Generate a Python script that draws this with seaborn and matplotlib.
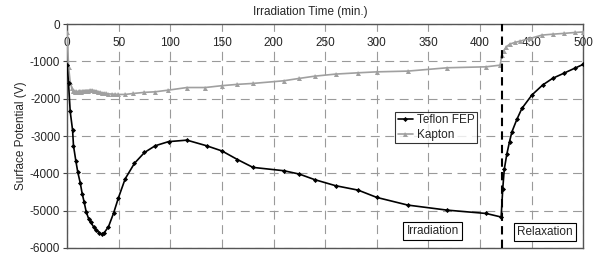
import numpy as np
import pandas as pd
import matplotlib
matplotlib.use('Agg')
import matplotlib.pyplot as plt
import seaborn as sns

# Teflon FEP (black)
teflon_t = [0, 1.3, 2.9, 5.2, 6.1, 8.4, 10.3, 12.6, 14.5, 16.5, 18.4, 20.7, 22.9, 25.5, 28.1,
            31, 33.3, 35.9, 40, 44.9, 49.7, 56.2, 65.2, 74.9, 85.3, 98.2, 116, 135, 150, 165,
            180, 210, 225, 240, 260, 282, 300, 330, 368, 406, 420.5, 422, 423.5, 426, 428.6,
            430.9, 435.7, 440.6, 450.3, 460.6, 470.3, 481, 492, 500]
teflon_v = [-1100, -1590, -2340, -2840, -3260, -3670, -3975, -4250, -4540, -4780, -5030, -5210,
            -5315, -5430, -5520, -5590, -5630, -5590, -5430, -5070, -4650, -4145, -3730, -3440,
            -3260, -3150, -3110, -3260, -3400, -3630, -3840, -3930, -4020, -4170, -4330, -4450,
            -4645, -4850, -4985, -5075, -5170, -4430, -3895, -3485, -3150, -2890, -2555, -2260,
            -1900, -1635, -1455, -1320, -1180, -1080]

# Kapton (grey)
kapton_t = [0, 1.3, 2.9, 4.5, 6, 7, 8, 9, 10, 11, 12, 13, 14, 15, 16, 17, 18, 19, 20, 22, 24,
            26, 28, 30, 32, 34, 36, 38, 40, 43, 46, 49.7, 56, 64, 74.6, 85, 98, 116, 133.7, 150,
            165, 180, 209.6, 225, 240, 260, 282, 300, 330, 368.5, 405.7, 419.6, 421, 423, 425.4,
            429, 434, 439, 448.6, 460, 470.6, 481, 492, 500]
kapton_v = [-220, -1140, -1550, -1720, -1780, -1800, -1810, -1800, -1810, -1800, -1800, -1810,
            -1800, -1800, -1790, -1790, -1780, -1780, -1780, -1770, -1770, -1780, -1790, -1810,
            -1830, -1840, -1850, -1860, -1870, -1875, -1880, -1885, -1885, -1860, -1830, -1815,
            -1770, -1700, -1700, -1650, -1615, -1590, -1520, -1455, -1395, -1340, -1305, -1280,
            -1260, -1170, -1145, -1100, -830, -715, -610, -535, -490, -455, -385, -295, -270,
            -250, -225, -210]

x_ticks = [0, 50, 100, 150, 200, 250, 300, 350, 400, 450, 500]
y_ticks = [0, -1000, -2000, -3000, -4000, -5000, -6000]

sns.set_style('white')
plt.rcParams['font.family'] = ['Liberation Sans', 'DejaVu Sans']
plt.rcParams['axes.unicode_minus'] = False

fig = plt.figure(figsize=(6, 2.59), dpi=100)
ax = fig.add_axes([0.112, 0.0425, 0.86, 0.8645])

df_t = pd.DataFrame({'t': teflon_t, 'v': teflon_v})
df_k = pd.DataFrame({'t': kapton_t, 'v': kapton_v})

sns.lineplot(data=df_t, x='t', y='v', ax=ax, color='black', lw=1.2, marker='D',
             markersize=2.6, markeredgewidth=0, sort=False, label='Teflon FEP', zorder=4)
sns.lineplot(data=df_k, x='t', y='v', ax=ax, color='#a0a0a0', lw=1.2, marker='^',
             markersize=3.6, markeredgewidth=0, sort=False, label='Kapton', zorder=3)

ax.set_xlim(0, 500)
ax.set_ylim(-6000, 0)
ax.set_xticks(x_ticks)
ax.set_yticks(y_ticks)
ax.set_xlabel('')
ax.set_ylabel('Surface Potential (V)', fontsize=8.5, labelpad=2)

ax.xaxis.tick_top()
ax.tick_params(axis='x', length=0, pad=-18, labelsize=8.5)
ax.tick_params(axis='y', length=3, width=0.8, direction='out', left=True, labelsize=8.5, pad=2,
               color='#444444')

ax.grid(True, color='#9a9a9a', lw=0.8, linestyle=(0, (8, 5)))
ax.set_axisbelow(True)
for s in ax.spines.values():
    s.set_color('#555555')
    s.set_linewidth(1.0)

ax.axvline(421, color='black', lw=1.5, linestyle=(0, (4, 2.5)), zorder=5)

fig.text(0.518, 0.955, 'Irradiation Time (min.)', ha='center', va='center', fontsize=8.5)

box = dict(boxstyle='square,pad=0.25', fc='white', ec='black', lw=0.8)
ax.text(354, -5550, 'Irradiation', ha='center', va='center', fontsize=8.5, bbox=box, zorder=6)
ax.text(463, -5575, 'Relaxation', ha='center', va='center', fontsize=8.5, bbox=box, zorder=6)

leg = ax.legend(loc='upper left', bbox_to_anchor=(0.636, 0.607), borderaxespad=0,
                fontsize=8.5, frameon=True, fancybox=False, handlelength=1.3,
                handletextpad=0.3, borderpad=0.2, labelspacing=0.2)
leg.get_frame().set_edgecolor('black')
leg.get_frame().set_linewidth(0.8)
leg.set_zorder(7)

fig.savefig('out.png', dpi=100)
plt.close(fig)
